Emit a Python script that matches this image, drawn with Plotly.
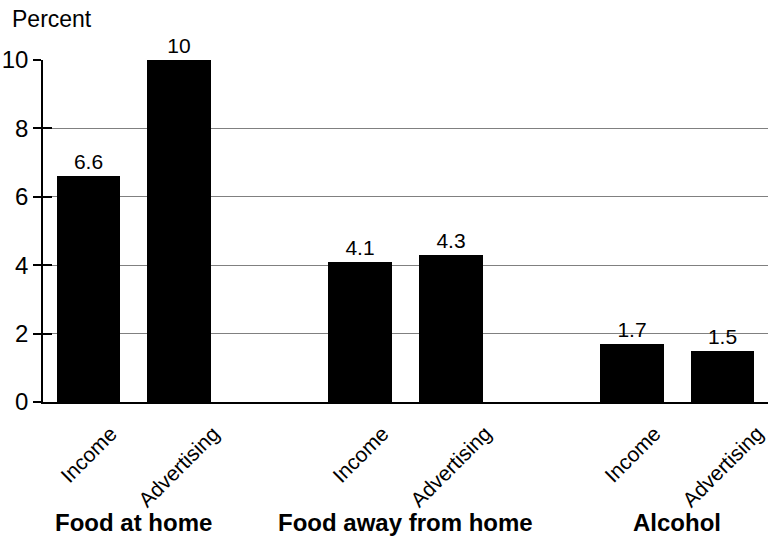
import plotly.graph_objects as go

groups = ["Food at home", "Food away from home", "Alcohol"]
subcategories = ["Income", "Advertising"]
income_values = [6.6, 4.1, 1.7]
advertising_values = [10, 4.3, 1.5]
y_ticks = [0, 2, 4, 6, 8, 10]

FONT = "Arial, Liberation Sans, Helvetica, sans-serif"

xs, ys, labels = [], [], []
for gi, g in enumerate(groups):
    for si, (sub, vals) in enumerate(zip(subcategories, [income_values, advertising_values])):
        xs.append(gi * 3 + si)
        ys.append(vals[gi])
        labels.append(sub)

fig = go.Figure()
fig.add_trace(go.Bar(
    x=xs, y=ys, width=0.7,
    marker=dict(color="black", line=dict(width=0)),
    text=[f"{v:g}" for v in ys], textposition="outside",
    textfont=dict(family=FONT, size=21, color="black"),
    cliponaxis=False, showlegend=False,
))
# invisible trace to activate the overlay axis carrying inner tick marks
fig.add_trace(go.Scatter(x=[xs[0]], y=[0], yaxis="y2", mode="markers",
                         marker=dict(opacity=0), showlegend=False, hoverinfo="skip"))

annotations = []
for x, lab in zip(xs, labels):
    annotations.append(dict(
        x=x, y=0, xref="x", yref="paper", text=lab, showarrow=False,
        textangle=-45, xanchor="center", yanchor="top", yshift=-17,
        font=dict(family=FONT, size=21, color="black"),
    ))

for gi, g in enumerate(groups):
    annotations.append(dict(
        x=gi * 3 + 0.5, y=0, xref="x", yref="paper", text=f"<b>{g}</b>", showarrow=False,
        xanchor="center", yanchor="bottom", yshift=-136,
        font=dict(family=FONT, size=24, color="black"),
    ))

annotations.append(dict(
    x=0, y=1, xref="paper", yref="paper", text="Percent", showarrow=False,
    xanchor="left", yanchor="middle", xshift=-33, yshift=41,
    font=dict(family=FONT, size=23, color="black"),
))

fig.update_layout(
    width=768, height=540,
    margin=dict(l=43, r=0, t=60, b=138),
    paper_bgcolor="white", plot_bgcolor="white",
    font=dict(family=FONT, size=16, color="black"),
    xaxis=dict(range=[-0.5, 7.5], showticklabels=False, ticks="",
               showgrid=False, zeroline=False, showline=True,
               linecolor="black", linewidth=2),
    yaxis=dict(range=[0, 10], tickvals=y_ticks, ticks="outside", ticklen=8,
               tickcolor="black", tickwidth=2, showline=True, linecolor="black",
               linewidth=1.5, showgrid=True, gridcolor="#808080", gridwidth=1,
               zeroline=False, tickfont=dict(family=FONT, size=24, color="black")),
    yaxis2=dict(range=[0, 10], tickvals=y_ticks, ticks="inside", ticklen=9,
                tickcolor="black", tickwidth=2, showticklabels=False,
                showgrid=False, zeroline=False, showline=False,
                overlaying="y", side="left"),
    annotations=annotations,
    bargap=0,
)

fig.write_html("out.html")
